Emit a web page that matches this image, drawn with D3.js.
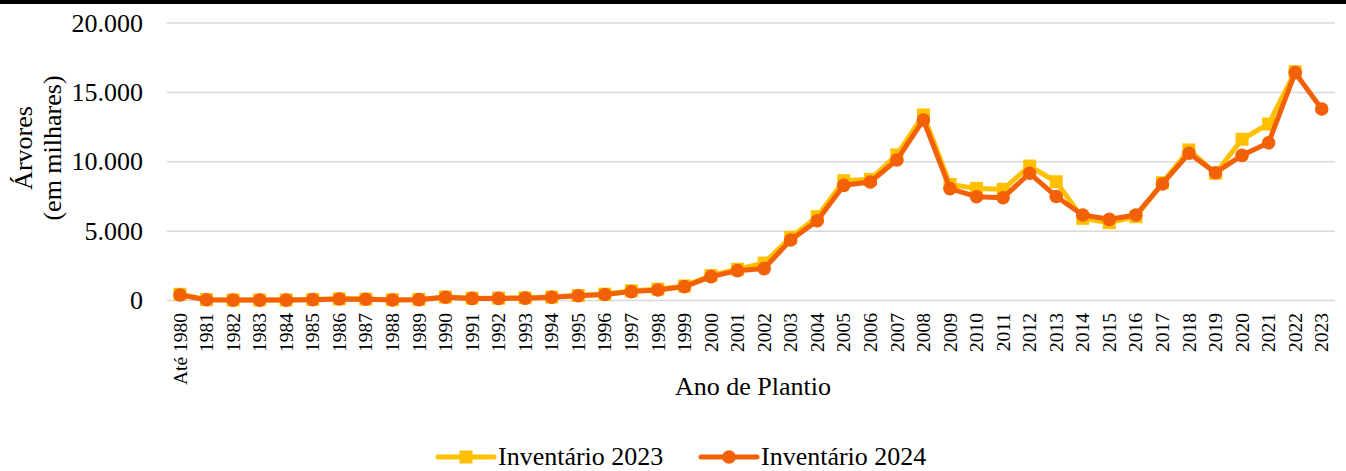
<!DOCTYPE html>
<html>
<head>
<meta charset="utf-8">
<script src="https://cdn.jsdelivr.net/npm/d3@7"></script>
<style>
  body { margin: 0; background: #fff; }
  text { font-family: "Liberation Serif", "Times New Roman", serif; fill: #000; }
</style>
</head>
<body>
<script>
// Categories (Ano de Plantio)
var anos = ["Até 1980"];
for (var a = 1981; a <= 2023; a++) anos.push(String(a));

// Árvores (em milhares)
var inv2023 = [450, 60, 40, 40, 40, 80, 120, 100, 60, 80, 250, 170, 170, 190, 250, 360, 460, 700, 820, 1050,
               1800, 2250, 2700, 4550, 6040, 8630, 8730, 10490, 13370, 8360, 8080, 8010, 9690, 8560,
               5920, 5610, 6040, 8490, 10850, 9170, 11620, 12720, 16490, null];
var inv2024 = [400, 50, 30, 30, 30, 60, 110, 90, 40, 60, 230, 150, 150, 170, 230, 340, 430, 640, 760, 1000,
               1720, 2150, 2300, 4360, 5750, 8300, 8540, 10130, 13010, 8060, 7480, 7410, 9170, 7500,
               6160, 5850, 6160, 8400, 10610, 9210, 10460, 11370, 16420, 13800];
var yTicks = [0, 5000, 10000, 15000, 20000];

var W = 1346, H = 471;
var amarelo = "#FFC000", laranja = "#F26108";

var svg = d3.select("body").append("svg")
    .attr("width", W)
    .attr("height", H);

// black bar at the top
svg.append("rect").attr("x", 0).attr("y", 0).attr("width", W).attr("height", 4).attr("fill", "#000");

var x = d3.scalePoint()
    .domain(anos)
    .range([166.7, 1335])
    .padding(0.5);

var y = d3.scaleLinear()
    .domain([0, 20000])
    .range([300.5, 23]);

var fmt = d3.formatLocale({decimal: ",", thousands: ".", grouping: [3], currency: ["", ""]}).format(",d");

// gridlines
svg.append("g")
    .selectAll("line")
    .data(yTicks)
    .enter().append("line")
    .attr("x1", 166.7)
    .attr("x2", 1335)
    .attr("y1", function(d) { return y(d); })
    .attr("y2", function(d) { return y(d); })
    .attr("stroke", "#d9d9d9")
    .attr("stroke-width", 1.5);

// y axis labels
svg.append("g")
    .selectAll("text")
    .data(yTicks)
    .enter().append("text")
    .attr("x", 143)
    .attr("y", function(d) { return y(d); })
    .attr("dy", "0.33em")
    .attr("text-anchor", "end")
    .style("font-size", "26px")
    .text(function(d) { return fmt(d); });

// x axis labels
svg.append("g")
    .selectAll("text")
    .data(anos)
    .enter().append("text")
    .attr("transform", function(d) { return "translate(" + x(d) + ",313) rotate(-90)"; })
    .attr("dy", "0.34em")
    .attr("text-anchor", "end")
    .style("font-size", "19.5px")
    .text(function(d) { return d; });

// axis titles
svg.append("text")
    .attr("x", 753)
    .attr("y", 395)
    .attr("text-anchor", "middle")
    .style("font-size", "26px")
    .text("Ano de Plantio");

var yt = svg.append("text")
    .attr("transform", "translate(0,148) rotate(-90)")
    .attr("text-anchor", "middle")
    .style("font-size", "26px");
yt.append("tspan").attr("x", 0).attr("y", 32).text("Árvores");
yt.append("tspan").attr("x", 0).attr("y", 61).text("(em milhares)");

var line = d3.line()
    .defined(function(d) { return d.v != null; })
    .x(function(d) { return x(d.ano); })
    .y(function(d) { return y(d.v); });

function serie(vals) {
    return anos.map(function(ano, i) { return {ano: ano, v: vals[i]}; });
}

var s23 = serie(inv2023), s24 = serie(inv2024);

// Inventário 2023
svg.append("path")
    .datum(s23)
    .attr("fill", "none")
    .attr("stroke", amarelo)
    .attr("stroke-width", 5)
    .attr("stroke-linejoin", "round")
    .attr("d", line);

svg.append("g")
    .selectAll("rect")
    .data(s23.filter(function(d) { return d.v != null; }))
    .enter().append("rect")
    .attr("x", function(d) { return x(d.ano) - 6.5; })
    .attr("y", function(d) { return y(d.v) - 6.5; })
    .attr("width", 13)
    .attr("height", 13)
    .attr("fill", amarelo);

// Inventário 2024
svg.append("path")
    .datum(s24)
    .attr("fill", "none")
    .attr("stroke", laranja)
    .attr("stroke-width", 5)
    .attr("stroke-linejoin", "round")
    .attr("d", line);

svg.append("g")
    .selectAll("circle")
    .data(s24)
    .enter().append("circle")
    .attr("cx", function(d) { return x(d.ano); })
    .attr("cy", function(d) { return y(d.v); })
    .attr("r", 6.8)
    .attr("fill", laranja);

// legend
var legenda = [
    {nome: "Inventário 2023", cor: amarelo, tipo: "square", x0: 438},
    {nome: "Inventário 2024", cor: laranja, tipo: "circle", x0: 701}
];
var lg = svg.selectAll(".legend")
    .data(legenda)
    .enter().append("g")
    .attr("class", "legend")
    .attr("transform", function(d) { return "translate(" + d.x0 + ",457)"; });

lg.append("line")
    .attr("x1", 0).attr("x2", 56)
    .attr("stroke", function(d) { return d.cor; })
    .attr("stroke-width", 5)
    .attr("stroke-linecap", "round");

lg.filter(function(d) { return d.tipo == "square"; })
    .append("rect")
    .attr("x", 21.5).attr("y", -6.5)
    .attr("width", 13).attr("height", 13)
    .attr("fill", function(d) { return d.cor; });

lg.filter(function(d) { return d.tipo == "circle"; })
    .append("circle")
    .attr("cx", 28).attr("r", 6.8)
    .attr("fill", function(d) { return d.cor; });

lg.append("text")
    .attr("x", 60)
    .attr("y", 8)
    .style("font-size", "26px")
    .text(function(d) { return d.nome; });
</script>
</body>
</html>
